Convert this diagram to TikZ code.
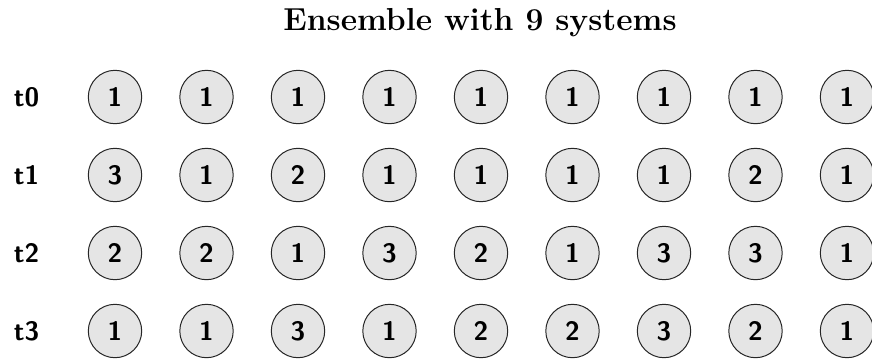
\documentclass[tikz,border=0pt]{standalone}
\begin{document}
\begin{tikzpicture}[x=0.5pt,y=-0.5pt,
  sysnode/.style={circle,draw=black!85,line width=0.5pt,fill=gray!20,minimum size=26.7pt,inner sep=0pt,
    font=\fontsize{13.3}{15}\selectfont\sffamily\bfseries},
  rowlabel/.style={font=\fontsize{13.3}{15}\selectfont\sffamily\bfseries,inner sep=0pt},
  titlestyle/.style={font=\fontsize{15.9}{18}\selectfont\bfseries,inner sep=0pt,anchor=base}]
\useasboundingbox (0,0) rectangle (872,360);
\node[titlestyle] (title) at (480,30) {Ensemble with 9 systems};
\foreach \row/\vals [count=\j from 0] in {t0/{1,1,1,1,1,1,1,1,1},t1/{3,1,2,1,1,1,1,2,1},t2/{2,2,1,3,2,1,3,3,1},t3/{1,1,3,1,2,2,3,2,1}}{
  \node[rowlabel] (lab-\j) at (26.5,97+78*\j) {\row};
  \foreach \v [count=\i from 0] in \vals {
    \node[sysnode] (c-\j-\i) at (115+91.5*\i,97+78*\j) {\v};
  }
}
\end{tikzpicture}
\end{document}
